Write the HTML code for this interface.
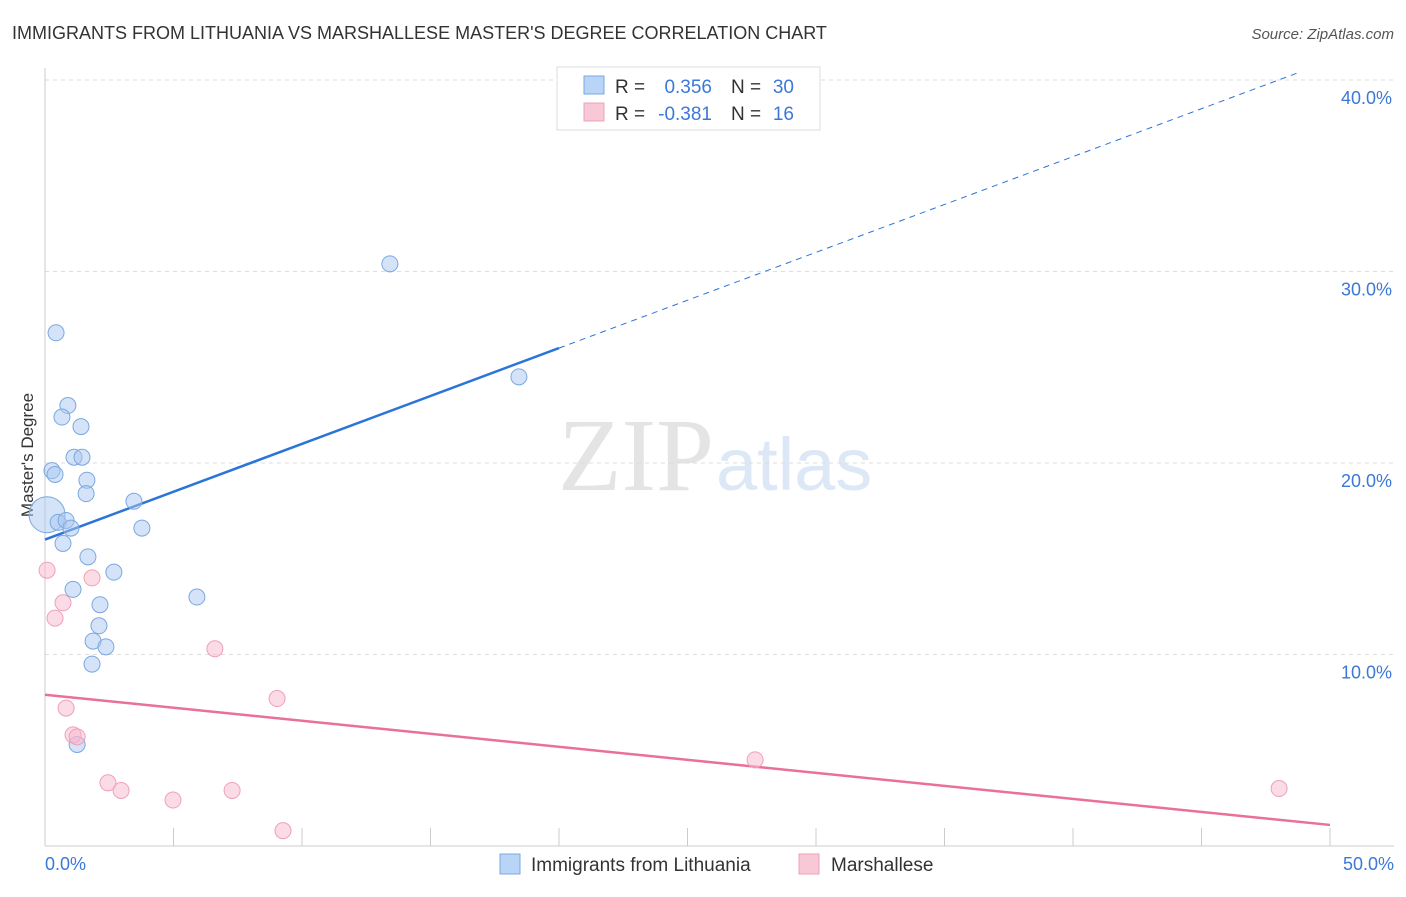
<!DOCTYPE html>
<html><head><meta charset="utf-8"><style>
body{margin:0;background:#fff;font-family:"Liberation Sans",sans-serif}
</style></head><body>
<svg width="1406" height="892" xmlns="http://www.w3.org/2000/svg">
<text x="12" y="39" font-size="18" fill="#333">IMMIGRANTS FROM LITHUANIA VS MARSHALLESE MASTER'S DEGREE CORRELATION CHART</text>
<text x="1394" y="39" font-size="15" fill="#555" font-style="italic" text-anchor="end">Source: ZipAtlas.com</text>
<text x="714" y="490" font-size="104" fill="#e4e4e4" text-anchor="end" font-family="Liberation Serif,serif">ZIP</text>
<text x="716" y="490" font-size="74" fill="#dce8f6">atlas</text>
<g id="grid"></g>
<line x1="45" y1="68" x2="45" y2="846" stroke="#ccc"/>
<line x1="45" y1="846" x2="1394" y2="846" stroke="#ccc"/>
<g id="ticks"></g>
<text x="33" y="455" font-size="17" fill="#333" text-anchor="middle" transform="rotate(-90 33 455)">Master's Degree</text>
<text x="45" y="870" font-size="18" fill="#3b78d8">0.0%</text>
<text x="1394" y="870" font-size="18" fill="#3b78d8" text-anchor="end">50.0%</text>
<g id="lines"></g>
<g id="points"></g>
<g>
<rect x="557" y="67" width="263" height="63" fill="#fff" stroke="#ddd"/>
<rect x="584" y="76" width="20" height="18" fill="#b8d4f6" stroke="#7aa8e0"/>
<text x="615" y="93" font-size="19" fill="#333">R =</text>
<text x="712" y="93" font-size="19" fill="#3b78d8" text-anchor="end">0.356</text>
<text x="731" y="93" font-size="19" fill="#333">N =</text>
<text x="794" y="93" font-size="19" fill="#3b78d8" text-anchor="end">30</text>
<rect x="584" y="103" width="20" height="18" fill="#f9c8d6" stroke="#f0a0b8"/>
<text x="615" y="120" font-size="19" fill="#333">R =</text>
<text x="712" y="120" font-size="19" fill="#3b78d8" text-anchor="end">-0.381</text>
<text x="731" y="120" font-size="19" fill="#333">N =</text>
<text x="794" y="120" font-size="19" fill="#3b78d8" text-anchor="end">16</text>
</g>
<g>
<rect x="500" y="854" width="20" height="20" fill="#b8d4f6" stroke="#7aa8e0"/>
<text x="531" y="871" font-size="19" fill="#333">Immigrants from Lithuania</text>
<rect x="799" y="854" width="20" height="20" fill="#f9c8d6" stroke="#f0a0b8"/>
<text x="831" y="871" font-size="19" fill="#333">Marshallese</text>
</g>
</svg>
<script>
const blueX=[0.08,0.43,0.89,0.66,1.40,1.13,1.44,0.27,0.39,1.63,1.60,0.51,0.82,1.01,0.70,1.67,1.09,2.14,2.10,1.87,2.37,1.83,2.68,3.46,3.77,5.91,13.42,18.44,1.25];
const blueY=[17.3,26.8,23.0,22.4,21.9,20.3,20.3,19.6,19.4,19.1,18.4,16.9,17.0,16.6,15.8,15.1,13.4,12.6,11.5,10.7,10.4,9.5,14.3,18.0,16.6,13.0,30.4,24.5,5.3];
const pinkX=[0.08,0.39,0.70,1.83,0.82,1.09,1.25,2.45,2.96,4.98,7.28,6.61,9.03,9.26,27.63,48.02];
const pinkY=[14.4,11.9,12.7,14.0,7.2,5.8,5.7,3.3,2.9,2.4,2.9,10.3,7.7,0.8,4.5,3.0];
const yTicks=[10,20,30,40];
const xTicks=[0,5,10,15,20,25,30,35,40,45,50];
const blueFit=[16.0,0.5];
const pinkFit=[7.9,-0.136];
const NS="http://www.w3.org/2000/svg";
const sx=v=>45+v*25.7, sy=v=>846-v*19.15;
function mk(t,a,p){const e=document.createElementNS(NS,t);for(const k in a)e.setAttribute(k,a[k]);document.getElementById(p).appendChild(e);return e;}
yTicks.forEach(t=>{
 const l=mk('line',{x1:45,x2:1394,y1:sy(t),y2:sy(t),stroke:'#ddd','stroke-dasharray':'4,4'},'grid');
 
 
 const tx=mk('text',{x:1392,y:sy(t)+24,'font-size':18,fill:'#3b78d8','text-anchor':'end'},'ticks');
 tx.textContent=t.toFixed(1)+'%';
 
 
});
xTicks.forEach(t=>{
 const l=mk('line',{x1:sx(t),x2:sx(t),y1:828,y2:846,stroke:'#ccc'},'ticks');
 
 
});
let l=mk('line',{x1:sx(0),y1:sy(blueFit[0]),x2:sx(20),y2:sy(blueFit[0]+20*blueFit[1]),stroke:'#2b74d8','stroke-width':2.5},'lines');


l=mk('line',{x1:sx(20),y1:sy(blueFit[0]+20*blueFit[1]),x2:sx(48.8),y2:sy(blueFit[0]+48.8*blueFit[1]),stroke:'#2b74d8','stroke-width':1,'stroke-dasharray':'6,5'},'lines');


l=mk('line',{x1:sx(0),y1:sy(pinkFit[0]),x2:sx(50),y2:sy(pinkFit[0]+50*pinkFit[1]),stroke:'#e8709a','stroke-width':2.5},'lines');


blueX.forEach((v,i)=>{
 const c=mk('circle',{cx:sx(v),cy:sy(blueY[i]),r:i===0?18:8,fill:'rgba(170,200,242,0.5)',stroke:'#7aa8e0','stroke-width':1},'points');
 
 
});
pinkX.forEach((v,i)=>{
 const c=mk('circle',{cx:sx(v),cy:sy(pinkY[i]),r:8,fill:'rgba(248,184,204,0.5)',stroke:'#f0a0b8','stroke-width':1},'points');
 
 
});
</script>
</body></html>
